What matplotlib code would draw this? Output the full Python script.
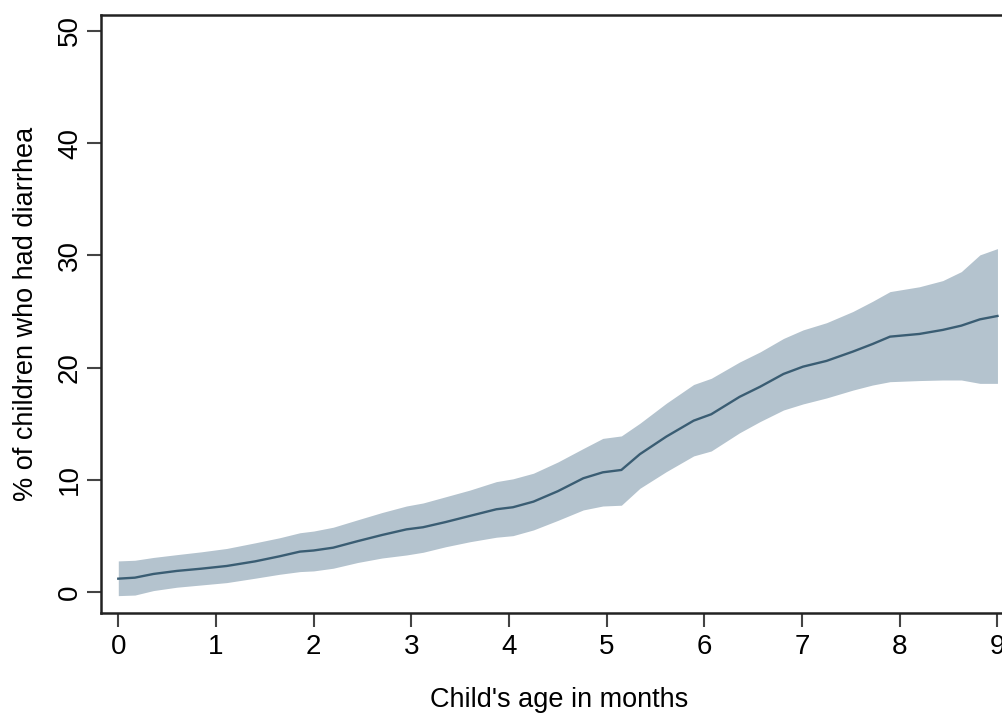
import matplotlib.pyplot as plt

# child's age in months and % of children with diarrhea (fit + 95% CI)
age = [0.0, 0.17, 0.36, 0.6, 0.85, 1.11, 1.4, 1.65, 1.86, 2.0, 2.2, 2.45, 2.7, 2.95, 3.12,
       3.35, 3.6, 3.87, 4.04, 4.25, 4.5, 4.76, 4.96, 5.15, 5.34, 5.61, 5.89, 6.07, 6.36,
       6.57, 6.81, 7.01, 7.25, 7.52, 7.72, 7.9, 8.2, 8.44, 8.63, 8.82, 9.0]
fit = [1.21, 1.3, 1.63, 1.9, 2.1, 2.34, 2.75, 3.2, 3.62, 3.72, 3.97, 4.55, 5.1, 5.6, 5.79,
       6.25, 6.8, 7.39, 7.57, 8.07, 9.0, 10.15, 10.68, 10.89, 12.3, 13.86, 15.28, 15.85, 17.4,
       18.3, 19.44, 20.09, 20.6, 21.43, 22.1, 22.76, 23.0, 23.36, 23.74, 24.3, 24.6]
upper = [2.79, 2.85, 3.1, 3.35, 3.6, 3.9, 4.4, 4.85, 5.3, 5.45, 5.79, 6.45, 7.1, 7.68, 7.95,
         8.5, 9.1, 9.85, 10.1, 10.6, 11.6, 12.8, 13.7, 13.92, 15.05, 16.83, 18.5, 19.05, 20.5,
         21.4, 22.6, 23.36, 24.0, 25.0, 25.9, 26.77, 27.2, 27.75, 28.55, 30.04, 30.6]
lower = [-0.3, -0.25, 0.15, 0.45, 0.65, 0.86, 1.25, 1.6, 1.84, 1.9, 2.14, 2.65, 3.05, 3.32, 3.56,
         4.05, 4.5, 4.9, 5.04, 5.55, 6.4, 7.33, 7.68, 7.75, 9.26, 10.74, 12.14, 12.58, 14.2,
         15.2, 16.23, 16.77, 17.3, 18.0, 18.45, 18.75, 18.85, 18.9, 18.9, 18.6, 18.6]

plt.rcParams['font.family'] = ['Liberation Sans', 'DejaVu Sans']

fig = plt.figure(figsize=(10.03, 7.14), dpi=100)
ax = fig.add_axes([101 / 1003, 101.3 / 714, 916 / 1003, 597.7 / 714])

ax.fill_between(age, lower, upper, color='#b4c3ce', linewidth=0)
ax.plot(age, fit, color='#3a5d73', linewidth=1.7)

ax.set_xlim(-0.177, 9.2)
ax.set_ylim(-1.82, 51.4)
ax.set_xticks(range(0, 10))
ax.set_yticks(range(0, 60, 10))
ax.tick_params(axis='both', labelsize=20, length=10, width=1.5, color='#444444')
ax.tick_params(axis='x', pad=5)
ax.tick_params(axis='y', pad=3)
for lab in ax.get_yticklabels():
    lab.set_rotation(90)
    lab.set_va('center')

for side in ['left', 'bottom', 'top']:
    ax.spines[side].set_linewidth(1.8)
    ax.spines[side].set_color('#222222')
ax.spines['right'].set_visible(False)

ax.set_xlabel("Child's age in months", fontsize=19.5, labelpad=20)
ax.set_ylabel('% of children who had diarrhea', fontsize=19.5, labelpad=13)

fig.savefig('out.png', dpi=100)
